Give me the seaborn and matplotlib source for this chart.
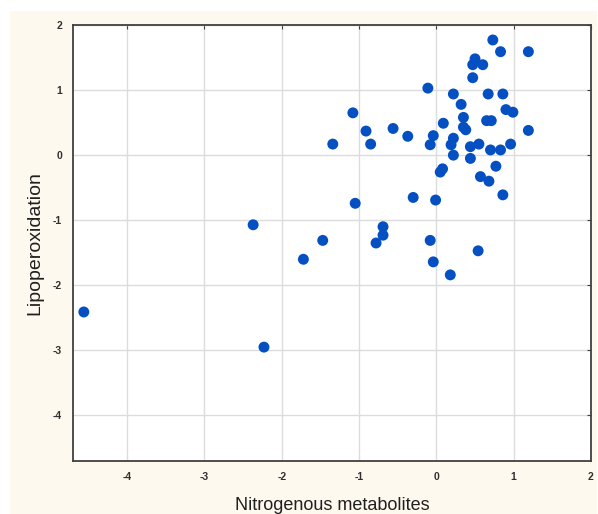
import matplotlib
matplotlib.use("Agg")
import matplotlib.pyplot as plt
import seaborn as sns
import pandas as pd
from matplotlib.patches import Rectangle

# values
nitrogenous = [0.73, 0.83, 1.19, 0.50, 0.47, 0.60, 0.47, -0.11, 0.22, 0.67,
               0.86, 0.32, -1.08, 0.90, 0.99, 0.35, 0.65, 0.71, 0.09, 0.35,
               0.38, -0.91, -0.56, -0.37, -0.04, -0.08, -0.85, -1.34, 0.22, 0.19,
               0.22, 0.44, 0.55, 0.44, 0.70, 0.83, 0.96, 1.19, 0.08, 0.05,
               0.77, 0.57, 0.68, 0.86, -0.30, -0.01, -1.05, -1.47, -0.69, -0.69,
               -0.78, -0.08, 0.54, -0.04, 0.18, -1.72, -2.37, -4.56, -2.23]
lipoperox = [1.77, 1.59, 1.59, 1.48, 1.39, 1.39, 1.19, 1.03, 0.94, 0.94,
             0.94, 0.78, 0.65, 0.70, 0.66, 0.58, 0.53, 0.53, 0.49, 0.43,
             0.39, 0.37, 0.41, 0.29, 0.30, 0.16, 0.17, 0.17, 0.26, 0.16,
             0.00, 0.13, 0.17, -0.05, 0.08, 0.08, 0.17, 0.38, -0.21, -0.26,
             -0.17, -0.33, -0.40, -0.61, -0.65, -0.69, -0.74, -1.31, -1.10, -1.23,
             -1.35, -1.31, -1.47, -1.64, -1.84, -1.60, -1.07, -2.41, -2.95]

df = pd.DataFrame({"Nitrogenous metabolites": nitrogenous,
                   "Lipoperoxidation": lipoperox})

sns.set_style("whitegrid")
plt.rcParams['font.family'] = ['Liberation Sans', 'DejaVu Sans']
plt.rcParams['axes.unicode_minus'] = False

fig = plt.figure(figsize=(5.98, 5.14), dpi=100, facecolor='white')
# cream panel behind the plot
fig.patches.append(Rectangle((10 / 598, 0), 587 / 598, 503 / 514,
                             transform=fig.transFigure, facecolor='#fef9ee',
                             edgecolor='none', zorder=-1))

ax = fig.add_axes([73 / 598, 53 / 514, 518 / 598, 436 / 514])
ax.set_facecolor('white')

sns.scatterplot(data=df, x="Nitrogenous metabolites", y="Lipoperoxidation",
                ax=ax, color='#0450c2', s=62, edgecolor='none', linewidth=0)

ax.set_xlim(-4.7, 2)
ax.set_ylim(-4.7, 2)
ax.set_xticks([-4, -3, -2, -1, 0, 1, 2])
ax.set_yticks([-4, -3, -2, -1, 0, 1, 2])
ax.grid(True, color='#dcdcdc', linewidth=1.0)
ax.set_axisbelow(True)

for side in ['left', 'bottom', 'top', 'right']:
    ax.spines[side].set_visible(True)
    ax.spines[side].set_color('#404040')
    ax.spines[side].set_linewidth(1.3)

ax.tick_params(direction='in', length=3, width=0.8, color='#404040',
               top=True, right=True, labelsize=7.5, labelcolor='#303030', pad=8)
for lbl in ax.get_xticklabels() + ax.get_yticklabels():
    lbl.set_fontweight('bold')

ax.set_xlabel("Nitrogenous metabolites", fontsize=13, color='#202020', labelpad=11)
ax.set_ylabel("Lipoperoxidation", fontsize=14, color='#202020', labelpad=7)

fig.savefig("out.png", dpi=100, facecolor='white')
